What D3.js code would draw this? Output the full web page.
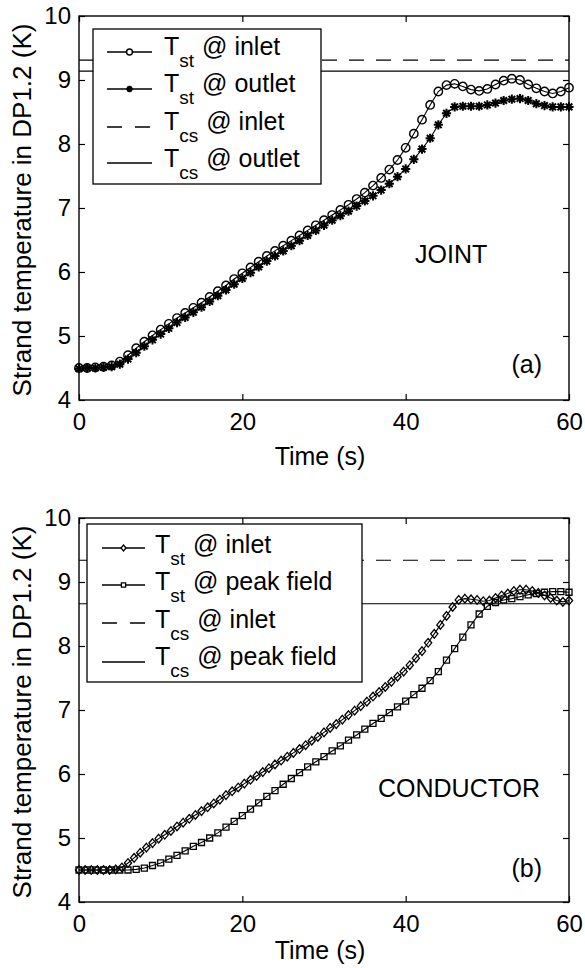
<!DOCTYPE html>
<html>
<head>
<meta charset="utf-8">
<script src="https://cdn.jsdelivr.net/npm/d3@7"></script>
<style>
  body { margin: 0; background: #fff; }
  svg { display: block; }
  text { font-family: "Liberation Sans", Arial, Helvetica, sans-serif; fill: #000; }
</style>
</head>
<body>
<svg id="chart" width="585" height="968"></svg>
<script>
// panel (a) joint, one point per second
var timeJoint = [0,1,2,3,4,5,6,7,8,9,10,11,12,13,14,15,16,17,18,19,20,21,22,23,24,25,26,27,28,29,30,
  31,32,33,34,35,36,37,38,39,40,41,42,43,44,45,46,47,48,49,50,51,52,53,54,55,56,57,58,59,60];
var jointInlet = [4.50,4.50,4.51,4.52,4.54,4.60,4.70,4.81,4.91,5.01,5.10,5.19,5.28,5.36,5.44,5.52,
  5.61,5.70,5.79,5.89,5.98,6.07,6.16,6.25,6.33,6.41,6.49,6.57,6.65,6.73,6.81,6.89,6.97,7.05,7.14,
  7.24,7.35,7.47,7.60,7.75,7.94,8.16,8.38,8.61,8.82,8.92,8.94,8.90,8.85,8.83,8.86,8.93,8.99,9.02,
  9.00,8.93,8.87,8.82,8.79,8.82,8.88];
var jointOutlet = [4.49,4.50,4.50,4.51,4.52,4.56,4.64,4.74,4.84,4.94,5.03,5.12,5.21,5.29,5.37,5.45,
  5.54,5.63,5.72,5.81,5.90,5.99,6.08,6.17,6.25,6.33,6.41,6.49,6.57,6.65,6.73,6.81,6.88,6.95,7.03,
  7.11,7.19,7.28,7.38,7.49,7.61,7.76,7.92,8.09,8.30,8.48,8.58,8.59,8.59,8.59,8.61,8.64,8.68,8.70,
  8.71,8.68,8.63,8.60,8.58,8.58,8.58];
var tcsJoint = [9.31, 9.14]; // inlet, outlet

// panel (b) conductor
var timeCondInlet = [0,0.75,1.5,2.25,3,3.75,4.5,5.25,6,6.75,7.5,8.25,9,9.75,10.5,11.25,12,12.75,13.5,
  14.25,15,15.75,16.5,17.25,18,18.75,19.5,20.25,21,21.75,22.5,23.25,24,24.75,25.5,26.25,27,27.75,
  28.5,29.25,30,30.75,31.5,32.25,33,33.75,34.5,35.25,36,36.75,37.5,38.25,39,39.75,40.5,41.25,42,
  42.75,43.5,44.25,45,45.75,46.5,47.25,48,48.75,49.5,50.25,51,51.75,52.5,53.25,54,54.75,55.5,56.25,
  57,57.75,58.5,59.25,60];
var condInlet = [4.50,4.50,4.50,4.50,4.50,4.50,4.51,4.54,4.61,4.69,4.77,4.85,4.92,4.99,5.05,5.11,
  5.18,5.24,5.30,5.36,5.42,5.48,5.54,5.60,5.67,5.73,5.79,5.85,5.91,5.97,6.03,6.09,6.15,6.21,6.27,
  6.33,6.39,6.45,6.52,6.58,6.65,6.72,6.78,6.85,6.92,6.99,7.06,7.13,7.21,7.28,7.36,7.44,7.52,7.60,
  7.70,7.81,7.92,8.05,8.19,8.33,8.47,8.61,8.72,8.74,8.73,8.72,8.70,8.71,8.75,8.79,8.82,8.86,8.88,
  8.88,8.86,8.83,8.79,8.75,8.71,8.69,8.71];
var timeCondPeak = [0,1,2,3,4,5,6,7,8,9,10,11,12,13,14,15,16,17,18,19,20,21,22,23,24,25,26,27,28,29,30,
  31,32,33,34,35,36,37,38,39,40,41,42,43,44,45,46,47,48,49,50,51,52,53,54,55,56,57,58,59,60];
var condPeak = [4.50,4.50,4.50,4.50,4.50,4.50,4.50,4.51,4.53,4.57,4.61,4.67,4.73,4.80,4.87,4.93,
  5.00,5.08,5.17,5.26,5.35,5.45,5.55,5.65,5.74,5.84,5.93,6.02,6.11,6.19,6.27,6.36,6.44,6.53,6.61,
  6.70,6.79,6.87,6.96,7.05,7.14,7.24,7.34,7.46,7.60,7.78,7.96,8.14,8.33,8.50,8.62,8.68,8.72,8.74,
  8.77,8.80,8.82,8.84,8.85,8.85,8.84];
var tcsCond = [9.34, 8.66]; // inlet, peak field

var xTicks = [0, 20, 40, 60];
var yTicks = [4, 5, 6, 7, 8, 9, 10];

var legendSubJoint = ["st", "st", "cs", "cs"];
var legendTextJoint = ["@ inlet", "@ outlet", "@ inlet", "@ outlet"];
var legendSubCond = ["st", "st", "cs", "cs"];
var legendTextCond = ["@ inlet", "@ peak field", "@ inlet", "@ peak field"];

var svg = d3.select("#chart");

var markers = {
  circle: "M4.2,0A4.2,4.2 0 1,1 -4.2,0A4.2,4.2 0 1,1 4.2,0Z",
  star: "M-4.6,0H4.6M0,-4.6V4.6M-3.3,-3.3L3.3,3.3M-3.3,3.3L3.3,-3.3",
  diamond: "M0,-4.3L3.6,0L0,4.3L-3.6,0Z",
  square: "M-3,-3H3V3H-3Z"
};
var markerWidth = { circle: 1.4, star: 2, diamond: 1.3, square: 1.3 };
var dash = "15,12";

function drawPanel(p) {
  var x = d3.scaleLinear().domain([0, 60]).range([79, 569]);
  var y = d3.scaleLinear().domain([4, 10]).range([p.bottom, p.top]);
  var g = svg.append("g");

  // axes, ticks pointing inward on all four sides
  function styleAxis(sel) {
    sel.select(".domain").remove();
    sel.selectAll("line").attr("stroke", "#000").attr("stroke-width", 1.2);
    sel.attr("font-size", 24).attr("font-family", "Liberation Sans, Arial, sans-serif");
  }
  g.append("g").attr("transform", "translate(0," + p.bottom + ")")
    .call(d3.axisBottom(x).tickValues(xTicks).tickFormat(d3.format("d"))
      .tickSizeInner(-6).tickSizeOuter(0).tickPadding(13))
    .call(styleAxis);
  g.append("g").attr("transform", "translate(0," + p.top + ")")
    .call(d3.axisTop(x).tickValues(xTicks).tickSizeInner(-6).tickSizeOuter(0).tickFormat(""))
    .call(styleAxis);
  g.append("g").attr("transform", "translate(79,0)")
    .call(d3.axisLeft(y).tickValues(yTicks).tickFormat(d3.format("d"))
      .tickSizeInner(-6).tickSizeOuter(0).tickPadding(8))
    .call(styleAxis);
  g.append("g").attr("transform", "translate(569,0)")
    .call(d3.axisRight(y).tickValues(yTicks).tickSizeInner(-6).tickSizeOuter(0).tickFormat(""))
    .call(styleAxis);

  g.append("rect")
    .attr("x", x(0)).attr("y", y(10))
    .attr("width", x(60) - x(0)).attr("height", y(4) - y(10))
    .attr("fill", "none").attr("stroke", "#000").attr("stroke-width", 1.4);

  // Tcs reference lines
  g.append("line").attr("x1", x(0)).attr("x2", x(60))
    .attr("y1", y(p.tcs[0])).attr("y2", y(p.tcs[0]))
    .attr("stroke", "#000").attr("stroke-width", 1.2).attr("stroke-dasharray", dash);
  g.append("line").attr("x1", x(0)).attr("x2", x(60))
    .attr("y1", y(p.tcs[1])).attr("y2", y(p.tcs[1]))
    .attr("stroke", "#000").attr("stroke-width", 1.2);

  var line = d3.line().x(function(d) { return x(d[0]); }).y(function(d) { return y(d[1]); });

  p.series.forEach(function(s) {
    var pts = d3.zip(s.t, s.v);
    g.append("path").datum(pts).attr("d", line)
      .attr("fill", "none").attr("stroke", "#000").attr("stroke-width", 1.1);
    g.selectAll(null).data(pts).enter().append("path")
      .attr("d", markers[s.marker])
      .attr("transform", function(d) { return "translate(" + x(d[0]) + "," + y(d[1]) + ")"; })
      .attr("fill", "none").attr("stroke", "#000")
      .attr("stroke-width", markerWidth[s.marker]);
  });

  // legend
  var lg = g.append("g");
  lg.append("rect").attr("x", p.legend.x0).attr("y", p.legend.y0)
    .attr("width", p.legend.x1 - p.legend.x0).attr("height", p.legend.y1 - p.legend.y0)
    .attr("fill", "#fff").attr("stroke", "#000").attr("stroke-width", 1.3);
  for (var i = 0; i < 4; i++) {
    var ly = p.legend.lineY[i];
    var l = lg.append("line").attr("x1", p.legend.lx0).attr("x2", p.legend.lx1)
      .attr("y1", ly).attr("y2", ly).attr("stroke", "#000").attr("stroke-width", 1.3);
    if (i == 2) l.attr("stroke-dasharray", "15,13");
    if (i < 2) {
      var mk = p.series[i].marker;
      lg.append("path").attr("d", markers[mk])
        .attr("transform", "translate(" + ((p.legend.lx0 + p.legend.lx1) / 2) + "," + ly + ") scale(0.7)")
        .attr("fill", "#fff").attr("stroke", "#000")
        .attr("stroke-width", markerWidth[mk] * 1.4);
    }
    var t = lg.append("text").attr("x", p.legend.tx).attr("y", p.legend.baseY[i]).attr("font-size", 25);
    t.append("tspan").text("T");
    t.append("tspan").attr("font-size", 19).attr("dy", 12).text(p.legend.subs[i]);
    t.append("tspan").attr("dy", -12).attr("dx", 8).text(p.legend.texts[i]);
  }

  g.append("text").attr("x", p.note.x).attr("y", p.note.y).attr("font-size", 25).text(p.note.text);
  g.append("text").attr("x", 542).attr("y", p.tagY).attr("font-size", 25)
    .attr("text-anchor", "end").text(p.tag);

  g.append("text").attr("x", 320).attr("y", p.xLabelY).attr("font-size", 25)
    .attr("text-anchor", "middle").text("Time (s)");
  g.append("text")
    .attr("transform", "translate(31," + ((p.top + p.bottom) / 2 + 2) + ") rotate(-90)")
    .attr("font-size", 26).attr("text-anchor", "middle")
    .text("Strand temperature in DP1.2 (K)");
}

drawPanel({
  top: 16, bottom: 400, xLabelY: 465,
  tcs: tcsJoint,
  series: [
    { t: timeJoint, v: jointInlet, marker: "circle" },
    { t: timeJoint, v: jointOutlet, marker: "star" }
  ],
  legend: {
    x0: 93, x1: 321, y0: 29, y1: 184,
    lx0: 107, lx1: 152, tx: 164,
    lineY: [52, 89, 127, 163], baseY: [55, 92, 130, 167],
    subs: legendSubJoint, texts: legendTextJoint
  },
  note: { x: 415, y: 263, text: "JOINT" },
  tag: "(a)", tagY: 373
});

drawPanel({
  top: 518, bottom: 902, xLabelY: 959,
  tcs: tcsCond,
  series: [
    { t: timeCondInlet, v: condInlet, marker: "diamond" },
    { t: timeCondPeak, v: condPeak, marker: "square" }
  ],
  legend: {
    x0: 87, x1: 362, y0: 524, y1: 682,
    lx0: 102, lx1: 145, tx: 155,
    lineY: [548, 585, 623, 662], baseY: [553, 590, 628, 665],
    subs: legendSubCond, texts: legendTextCond
  },
  note: { x: 378, y: 797, text: "CONDUCTOR" },
  tag: "(b)", tagY: 877
});
</script>
</body>
</html>
